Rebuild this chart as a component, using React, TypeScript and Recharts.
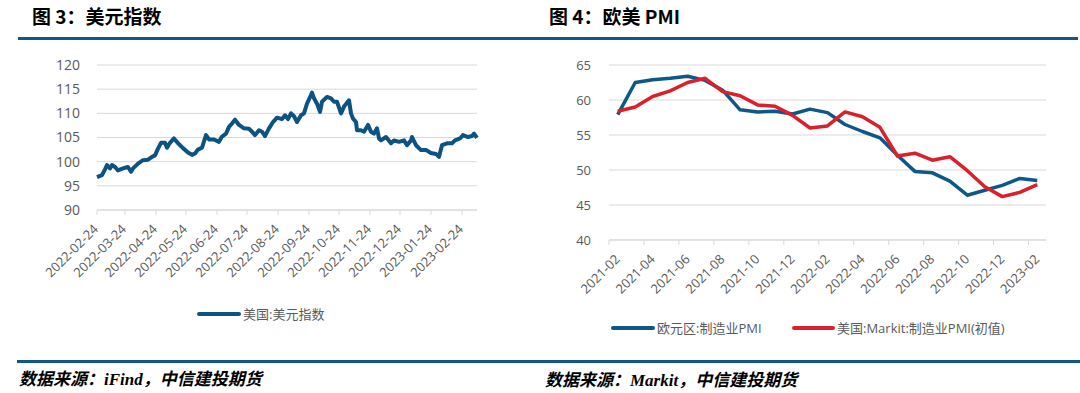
import React from 'react'
import { LineChart, Line, XAxis, YAxis, CartesianGrid } from 'recharts'

// 图3 美元指数: days since 2022-02-24 and index values
const dxyDays = [
  0, 5, 8, 10, 13, 15, 18, 21, 26, 31, 34, 36, 41, 46, 51, 55, 58, 61, 64, 68,
  70, 73, 77, 81, 86, 91, 95, 98, 101, 105, 109, 112, 117, 122, 125, 129, 132, 135, 138, 142,
  147, 152, 155, 158, 162, 165, 168, 172, 176, 180, 185, 188, 191, 194, 197, 200, 204, 207, 210, 214,
  215, 217, 220, 223, 225, 230, 234, 237, 240, 244, 247, 252, 254, 256, 259, 260, 264, 267, 271, 274,
  277, 280, 282, 284, 289, 294, 297, 302, 307, 310, 314, 315, 319, 324, 329, 334, 339, 342, 345, 350,
  355, 358, 363, 366, 371, 375, 377, 380,
]
const dxyValues = [
  96.8, 97.2, 98.4, 99.3, 98.6, 99.3, 98.9, 98.2, 98.6, 98.9, 97.9, 98.6, 99.6, 100.3, 100.4, 101.0, 101.3, 102.7, 103.9, 103.9,
  102.9, 103.9, 104.8, 103.8, 102.8, 101.9, 101.4, 101.7, 102.5, 102.9, 105.5, 104.6, 104.6, 104.1, 105.2, 105.8, 107.2, 107.9, 108.7, 107.6,
  106.9, 106.8, 106.2, 105.5, 106.5, 106.2, 105.3, 106.9, 108.2, 109.1, 108.8, 109.6, 108.8, 110.0, 109.4, 108.2, 109.6, 110.0, 112.0, 113.8,
  114.3, 113.1, 112.0, 110.3, 112.4, 113.4, 113.1, 112.4, 112.4, 110.0, 111.4, 112.7, 110.0, 108.9, 108.2, 106.5, 106.5, 106.2, 107.6, 106.2,
  105.8, 106.9, 104.8, 104.4, 105.1, 103.8, 104.4, 104.1, 104.4, 103.4, 104.4, 105.1, 103.4, 102.4, 102.4, 101.8, 101.6, 101.0, 103.4, 103.8,
  103.8, 104.4, 104.8, 105.5, 105.1, 105.3, 105.8, 104.9,
]
const dxyTickDays = [0, 28, 59, 89, 120, 150, 181, 212, 242, 273, 303, 334, 365]
const dxyTickLabels = [
  '2022-02-24', '2022-03-24', '2022-04-24', '2022-05-24', '2022-06-24', '2022-07-24', '2022-08-24',
  '2022-09-24', '2022-10-24', '2022-11-24', '2022-12-24', '2023-01-24', '2023-02-24',
]
const dxyYTicks = [90, 95, 100, 105, 110, 115, 120]

// 图4 欧美 PMI
const pmiMonths = [
  '2021-02', '2021-03', '2021-04', '2021-05', '2021-06', '2021-07', '2021-08', '2021-09', '2021-10',
  '2021-11', '2021-12', '2022-01', '2022-02', '2022-03', '2022-04', '2022-05', '2022-06', '2022-07',
  '2022-08', '2022-09', '2022-10', '2022-11', '2022-12', '2023-01', '2023-02',
]
const euroPmi = [
  57.9, 62.5, 62.9, 63.1, 63.4, 62.8, 61.4, 58.6, 58.3, 58.4, 58.0, 58.7, 58.2,
  56.5, 55.5, 54.6, 52.1, 49.8, 49.6, 48.4, 46.4, 47.1, 47.8, 48.8, 48.5,
]
const usPmi = [
  58.4, 59.0, 60.5, 61.3, 62.5, 63.1, 61.2, 60.6, 59.3, 59.1, 57.8, 56.0, 56.3,
  58.3, 57.6, 56.1, 52.0, 52.4, 51.4, 51.9, 49.9, 47.6, 46.2, 46.8, 47.9,
]
const pmiYTicks = [40, 45, 50, 55, 60, 65]

const BLUE = '#0C5282'
const RED = '#D9202B'
const GRID = '#D9D9D9'
const TICK = '#595959'
const RULE = '#11568A'

const dxyData = dxyDays.map((d, i) => ({ day: d, value: dxyValues[i] }))
const pmiData = pmiMonths.map((m, i) => ({ month: m, euro: euroPmi[i], us: usPmi[i] }))

const PMI_PLOT_W = 437
const halfBand = PMI_PLOT_W / pmiMonths.length / 2

const DxyTick = ({ x, y, payload }: any) => {
  const idx = dxyTickDays.indexOf(payload.value)
  return (
    <g transform={`translate(${x + 2},${y + 15})`}>
      <text transform="rotate(-45)" textAnchor="end" fill={TICK} fontSize={13} fontFamily="Open Sans">
        {dxyTickLabels[idx]}
      </text>
    </g>
  )
}

const PmiTick = ({ x, y, payload }: any) => (
  <g>
    <line x1={x - halfBand} x2={x - halfBand} y1={y - 5} y2={y} stroke={GRID} strokeWidth={1} />
    <g transform={`translate(${x + 3},${y + 15})`}>
      <text transform="rotate(-45)" textAnchor="end" fill={TICK} fontSize={13} fontFamily="Open Sans">
        {payload.value}
      </text>
    </g>
  </g>
)

const abs = (s: React.CSSProperties): React.CSSProperties => ({ position: 'absolute', ...s })

const titleStyle: React.CSSProperties = {
  fontFamily: '"Noto Sans CJK SC", "Noto Sans", sans-serif',
  fontWeight: 700,
  fontSize: 19,
  color: '#000',
  lineHeight: '20px',
  whiteSpace: 'nowrap',
}

const sourceStyle: React.CSSProperties = {
  fontFamily: '"Liberation Serif", "Noto Sans CJK SC", serif',
  fontWeight: 700,
  fontStyle: 'italic',
  fontSize: 17,
  color: '#000',
  lineHeight: '20px',
  whiteSpace: 'nowrap',
}

const legendText: React.CSSProperties = {
  fontFamily: '"Open Sans", "Noto Sans CJK SC", sans-serif',
  fontSize: 13,
  color: TICK,
  lineHeight: '16px',
  whiteSpace: 'nowrap',
}

function LegendItem({ color, label, left, top, lineW }: { color: string; label: string; left: number; top: number; lineW: number }) {
  return (
    <div style={abs({ left, top, display: 'flex', alignItems: 'center' })}>
      <div style={{ width: lineW, height: 4, borderRadius: 2, background: color, marginRight: 2 }} />
      <span style={legendText}>{label}</span>
    </div>
  )
}

export default function App() {
  return (
    <div style={abs({ left: 0, top: 0, width: 1080, height: 393, background: '#fff', overflow: 'hidden' })}>
      <div style={abs({ left: 32, top: 6, ...titleStyle })}>图 3：美元指数</div>
      <div style={abs({ left: 549, top: 6, ...titleStyle })}>图 4：欧美 PMI</div>
      <div style={abs({ left: 18, top: 37, width: 1060, height: 3, background: RULE })} />

      <div style={abs({ left: 0, top: 0 })}>
        <LineChart width={540} height={300} data={dxyData} margin={{ top: 65, right: 63, bottom: 10, left: 0 }}>
          <CartesianGrid vertical={false} stroke={GRID} />
          <XAxis
            dataKey="day"
            type="number"
            domain={[0, 380]}
            ticks={dxyTickDays}
            interval={0}
            height={80}
            stroke={GRID}
            tickSize={5}
            tickMargin={0}
            tick={<DxyTick />}
          />
          <YAxis
            domain={[90, 120]}
            ticks={dxyYTicks}
            width={97}
            axisLine={false}
            tickLine={false}
            tickSize={0}
            tickMargin={17}
            tick={{ fill: TICK, fontSize: 14, fontFamily: 'Open Sans' }}
          />
          <Line
            type="linear"
            dataKey="value"
            stroke={BLUE}
            strokeWidth={4}
            strokeLinejoin="round"
            dot={false}
            activeDot={false}
            isAnimationActive={false}
          />
        </LineChart>
      </div>

      <div style={abs({ left: 540, top: 0 })}>
        <LineChart width={540} height={310} data={pmiData} margin={{ top: 65, right: 34, bottom: 10, left: 0 }}>
          <CartesianGrid vertical={false} stroke={GRID} />
          <XAxis
            dataKey="month"
            interval={1}
            height={60}
            stroke={GRID}
            tickLine={false}
            tickSize={5}
            tickMargin={0}
            padding={{ left: halfBand, right: halfBand }}
            tick={<PmiTick />}
          />
          <YAxis
            domain={[40, 65]}
            ticks={pmiYTicks}
            width={69}
            axisLine={false}
            tickLine={false}
            tickSize={0}
            tickMargin={18}
            tick={{ fill: TICK, fontSize: 13, fontFamily: 'Open Sans' }}
          />
          <Line
            type="linear"
            dataKey="euro"
            stroke="#0E5889"
            strokeWidth={3.5}
            strokeLinejoin="round"
            dot={false}
            activeDot={false}
            isAnimationActive={false}
          />
          <Line
            type="linear"
            dataKey="us"
            stroke={RED}
            strokeWidth={3.5}
            strokeLinejoin="round"
            dot={false}
            activeDot={false}
            isAnimationActive={false}
          />
        </LineChart>
      </div>

      <LegendItem color={BLUE} label="美国:美元指数" left={197} top={306} lineW={44} />
      <LegendItem color="#0E5889" label="欧元区:制造业PMI" left={611} top={320} lineW={44} />
      <LegendItem color={RED} label="美国:Markit:制造业PMI(初值)" left={792} top={320} lineW={43} />

      <div style={abs({ left: 17, top: 360, width: 1063, height: 3, background: RULE })} />
      <div style={abs({ left: 19, top: 370, ...sourceStyle })}>数据来源：iFind，中信建投期货</div>
      <div style={abs({ left: 545, top: 371, ...sourceStyle })}>数据来源：Markit，中信建投期货</div>
    </div>
  )
}
